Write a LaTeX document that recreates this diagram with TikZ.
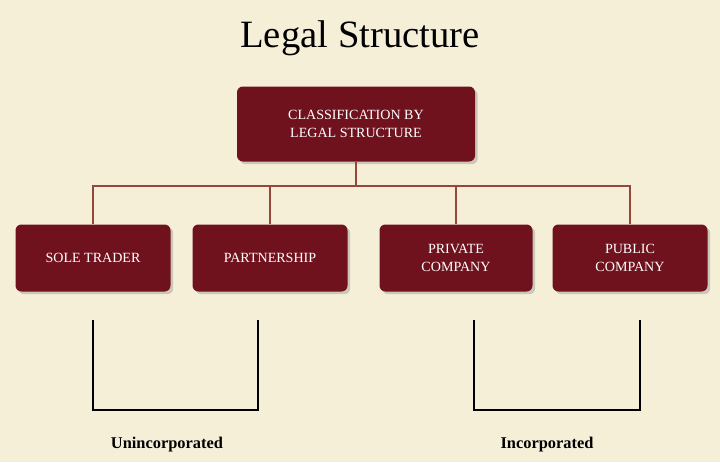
\documentclass[tikz,border=0pt]{standalone}
\usepackage{fontspec}
\setmainfont{Liberation Serif}
\usetikzlibrary{positioning,shadows}
\definecolor{bg}{RGB}{246,239,216}
\definecolor{boxred}{RGB}{112,18,30}
\definecolor{linered}{RGB}{150,70,60}
\tikzset{
  box/.style={draw=none,fill=boxred,rounded corners=5pt,text=white,align=center,
    font=\fontsize{12}{15}\selectfont,drop shadow={opacity=0.35}},
  link/.style={linered,line width=1.2pt},
  brace/.style={black,line width=2.2pt}
}
\begin{document}
\begin{tikzpicture}[x=0.03cm,y=-0.03cm]
		\fill[bg] (0,0) rectangle (720,462);
		\useasboundingbox (0,0) rectangle (720,462);
			\node (title) at (360,38) {\fontsize{33}{38}\selectfont Legal Structure};
		\node[box,minimum width=238*0.03cm,minimum height=75*0.03cm] (main) at (356,124) {CLASSIFICATION BY\\LEGAL STRUCTURE};
		\node[box,minimum width=155*0.03cm,minimum height=67*0.03cm] (sole) at (93,258) {SOLE TRADER};
		\node[box,minimum width=155*0.03cm,minimum height=67*0.03cm] (part) at (270,258) {PARTNERSHIP};
		\node[box,minimum width=153*0.03cm,minimum height=67*0.03cm] (priv) at (456,258) {PRIVATE\\COMPANY};
		\node[box,minimum width=155*0.03cm,minimum height=67*0.03cm] (pub) at (630,258) {PUBLIC\\COMPANY};
		\coordinate (bus) at (356,186);
			\draw[link] (main.south) -- (bus);
			\draw[link] (sole.north) |- (bus) -| (pub.north);
			\draw[link] (part.north) -- (part.north |- bus);
			\draw[link] (priv.north) -- (priv.north |- bus);
		\draw[brace] (93,320) -- (93,410) -- (258,410) -- (258,320);
		\draw[brace] (474,320) -- (474,410) -- (640,410) -- (640,320);
			\node[font=\fontsize{14}{16}\selectfont\bfseries] (uninc) at (167,445) {Unincorporated};
			\node[font=\fontsize{14}{16}\selectfont\bfseries] (inc) at (547,445) {Incorporated};
	\end{tikzpicture}
\end{document}
